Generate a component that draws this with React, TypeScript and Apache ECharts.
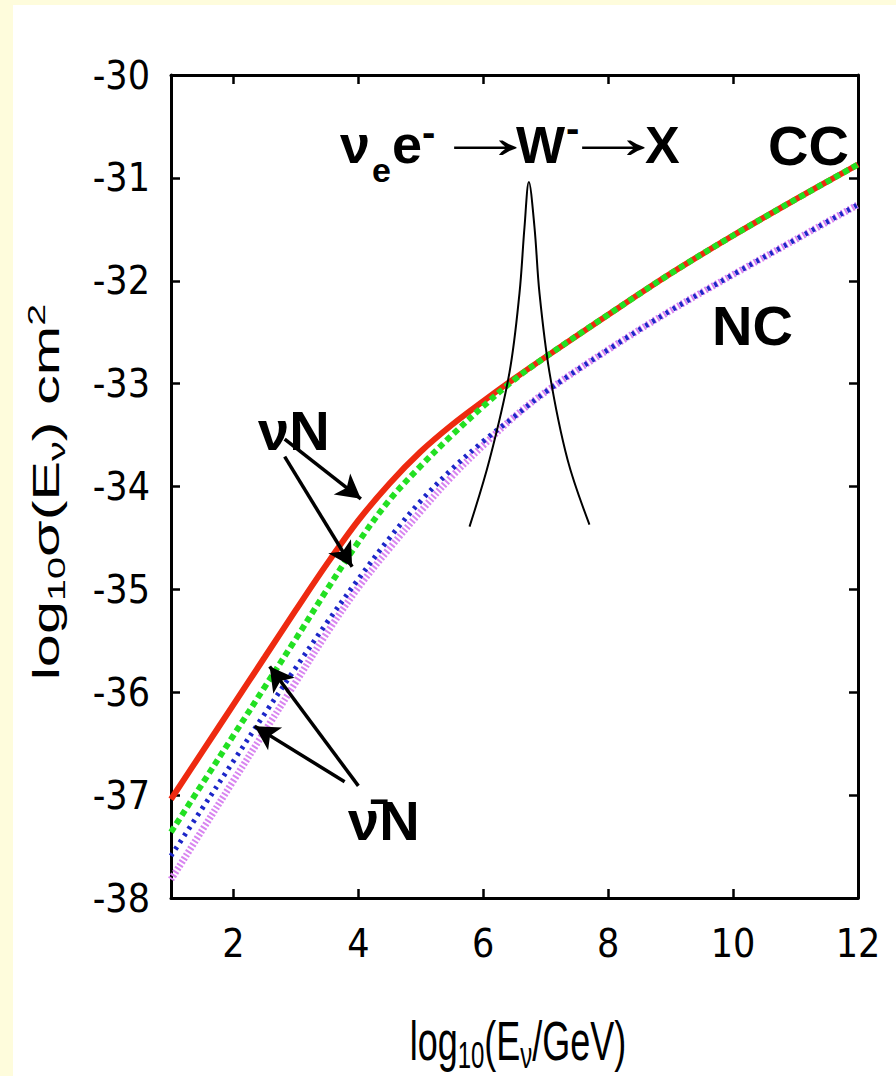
import React, { useEffect, useRef } from "react";
import * as echarts from "echarts";

// log10(E/GeV) sampling points for the cross-section curves
const energyGrid = [1, 1.5, 2, 2.5, 3, 3.5, 4, 4.5, 5, 5.5, 6, 6.5, 7, 8, 9, 10, 11, 12];
// log10 sigma (cm^2)
const nuN_CC = [-37.04, -36.58, -36.12, -35.66, -35.2, -34.75, -34.33, -33.97, -33.66, -33.4, -33.17, -32.95, -32.74, -32.33, -31.93, -31.56, -31.21, -30.87];
const nubarN_CC = [-37.36, -36.89, -36.42, -35.95, -35.48, -35.0, -34.54, -34.13, -33.8, -33.5, -33.22, -32.96, -32.74, -32.33, -31.93, -31.56, -31.21, -30.87];
const nuN_NC = [-37.59, -37.13, -36.67, -36.21, -35.76, -35.32, -34.9, -34.5, -34.14, -33.83, -33.56, -33.32, -33.08, -32.67, -32.29, -31.94, -31.6, -31.26];
const nubarN_NC = [-37.82, -37.34, -36.86, -36.38, -35.9, -35.42, -34.98, -34.6, -34.24, -33.9, -33.6, -33.32, -33.08, -32.67, -32.29, -31.94, -31.6, -31.26];

// Glashow resonance  nu_e e- -> W- -> X
const glashowE = [5.78, 6.1, 6.42, 6.58, 6.66, 6.73, 6.82, 6.9, 7.06, 7.35, 7.7];
const glashowSigma = [-34.39, -33.74, -32.89, -32.12, -31.48, -31.04, -31.48, -32.12, -32.89, -33.74, -34.37];

// annotation arrows (data coordinates)
const arrowStart = [[2.82, -33.54], [2.82, -33.71], [4.0, -36.91], [3.78, -36.87]];
const arrowEnd = [[4.04, -34.12], [3.9, -34.78], [2.58, -35.75], [2.34, -36.33]];

const xTicks = [2, 4, 6, 8, 10, 12];

const NARROW = '"Liberation Sans Narrow", "DejaVu Sans Condensed", "Liberation Sans", Arial, sans-serif';
const SANS = '"Liberation Sans", Arial, Helvetica, sans-serif';

function pairs(xs: number[], ys: number[]) {
  return xs.map((x, i) => [x, ys[i]]);
}

// helper for annotation text placed by baseline
function btext(text: string, x: number, base: number, fs: number, weight: any = "bold", extra: any = {}) {
  return {
    type: "text",
    x,
    y: base - 0.3465 * fs,
    silent: true,
    ...extra,
    style: {
      text,
      fill: "#000",
      fontSize: fs,
      fontWeight: weight,
      fontFamily: SANS,
      align: "left",
      verticalAlign: "middle",
    },
  };
}

export default function App() {
  const ref = useRef<HTMLDivElement>(null);
  useEffect(() => {
    document.body.style.margin = "0";
    if (!ref.current) return;
    const chart = echarts.init(ref.current, null, { renderer: "svg" });

    const axisLine = { show: true, onZero: false, lineStyle: { color: "#000", width: 3 } };
    const axisTick = { show: true, inside: true, length: 9, lineStyle: { color: "#000", width: 2.5 } };

    const richMain = { fontSize: 36, fontFamily: SANS, color: "#000", lineHeight: 44, verticalAlign: "middle" };
    const richSub = { fontSize: 24, fontFamily: SANS, color: "#000", lineHeight: 24, verticalAlign: "bottom" };
    const richSup = { fontSize: 24, fontFamily: SANS, color: "#000", lineHeight: 24, verticalAlign: "top" };

    const option: any = {
      animation: false,
      backgroundColor: "transparent",
      grid: { left: 171, right: 38, top: 75, bottom: 178, containLabel: false },
      xAxis: [
        {
          type: "value",
          min: 1,
          max: 12,
          position: "bottom",
          axisLine,
          axisTick: { ...axisTick, customValues: xTicks },
          axisLabel: {
            customValues: xTicks,
            fontSize: 39,
            fontFamily: NARROW,
            color: "#000",
            margin: 26,
          },
          splitLine: { show: false },
        },
        {
          type: "value",
          min: 1,
          max: 12,
          position: "top",
          axisLine,
          axisTick: { ...axisTick, customValues: xTicks },
          axisLabel: { show: false },
          splitLine: { show: false },
        },
      ],
      yAxis: [
        {
          type: "value",
          min: -38,
          max: -30,
          interval: 1,
          position: "left",
          axisLine,
          axisTick,
          axisLabel: { fontSize: 39, fontFamily: NARROW, color: "#000", margin: 21 },
          splitLine: { show: false },
        },
        {
          type: "value",
          min: -38,
          max: -30,
          interval: 1,
          position: "right",
          axisLine,
          axisTick,
          axisLabel: { show: false },
          splitLine: { show: false },
        },
      ],
      series: [
        {
          name: "νN CC",
          type: "line",
          data: pairs(energyGrid, nuN_CC),
          smooth: 0.35,
          symbol: "none",
          lineStyle: { color: "#ee2a10", width: 6 },
          markLine: {
            silent: true,
            symbol: ["none", "arrow"],
            symbolSize: [20, 24],
            label: { show: false },
            lineStyle: { color: "#000", width: 3.5, type: "solid" },
            emphasis: { disabled: true },
            data: arrowStart.map((s, i) => [{ coord: s }, { coord: arrowEnd[i] }]),
          },
        },
        {
          name: "ν̄N CC",
          type: "line",
          data: pairs(energyGrid, nubarN_CC),
          smooth: 0.35,
          symbol: "none",
          lineStyle: { color: "#22e022", width: 6, type: [6, 4], cap: "butt" },
        },
        {
          name: "ν̄N NC",
          type: "line",
          data: pairs(energyGrid, nubarN_NC),
          smooth: 0.35,
          symbol: "none",
          lineStyle: { color: "#d884f0", width: 7, type: [2, 2], cap: "butt" },
        },
        {
          name: "νN NC",
          type: "line",
          data: pairs(energyGrid, nuN_NC),
          smooth: 0.35,
          symbol: "none",
          lineStyle: { color: "#1c26c8", width: 5, type: [3, 5], cap: "butt" },
        },
        {
          name: "Glashow",
          type: "line",
          data: pairs(glashowE, glashowSigma),
          smooth: 0.35,
          symbol: "none",
          lineStyle: { color: "#000", width: 2 },
        },
      ],
      graphic: [
        // reaction label
        btext("ν", 340, 163, 54),
        btext("e", 372, 182, 34),
        btext("e", 392, 163, 54),
        btext("-", 422, 146, 40),
        btext("→", 433, 158, 62, "normal", { scaleX: 1.7 }),
        btext("W", 516, 163, 52),
        btext("-", 566, 142, 40),
        btext("→", 561, 158, 62, "normal", { scaleX: 1.7 }),
        btext("X", 645, 163, 52),
        // curve labels
        btext("CC", 768, 165, 56),
        btext("NC", 712, 345, 56),
        btext("νN", 258, 450, 56),
        btext("ν̄N", 348, 840, 56),
        // y axis name
        {
          type: "text",
          x: 47,
          y: 492,
          rotation: Math.PI / 2,
          scaleX: 1.65,
          silent: true,
          style: {
            text: "{m|log}{s|10}{m|σ(E}{s|ν}{m|) cm}{p|2}",
            align: "center",
            verticalAlign: "middle",
            rich: { m: richMain, s: richSub, p: richSup },
          },
        },
        // x axis name
        {
          type: "text",
          x: 518,
          y: 1040,
          scaleY: 1.55,
          silent: true,
          style: {
            text: "{m|log}{s|10}{m|(E}{s|ν}{m|/GeV)}",
            align: "center",
            verticalAlign: "middle",
            rich: { m: richMain, s: richSub },
          },
        },
      ],
    };
    chart.setOption(option);
    return () => chart.dispose();
  }, []);

  return (
    <div style={{ position: "relative", width: 896, height: 1076, background: "#fefcdc", overflow: "hidden" }}>
      <div style={{ position: "absolute", left: 13, top: 5, width: 883, height: 1071, background: "#ffffff" }} />
      <div ref={ref} style={{ position: "absolute", left: 0, top: 0, width: 896, height: 1076 }} />
    </div>
  );
}
